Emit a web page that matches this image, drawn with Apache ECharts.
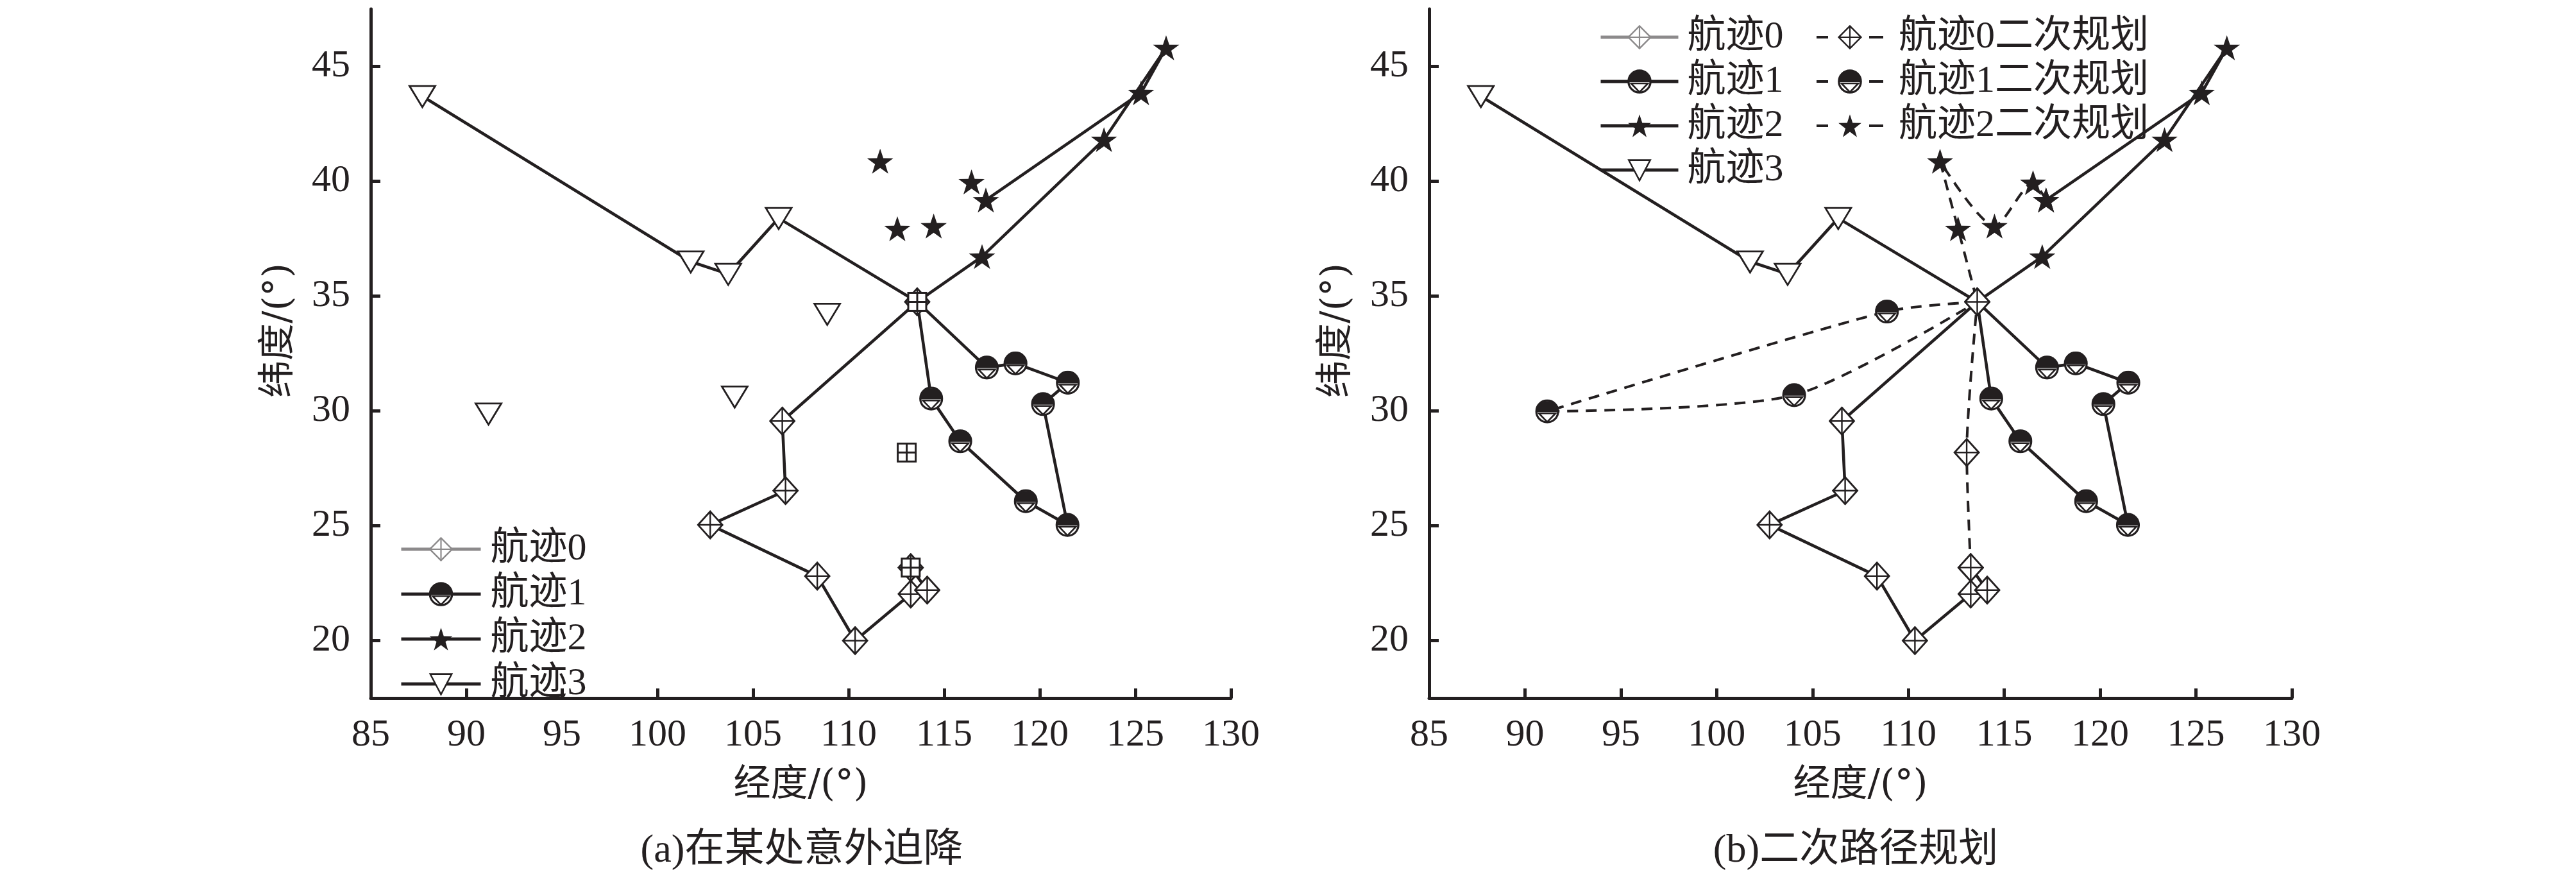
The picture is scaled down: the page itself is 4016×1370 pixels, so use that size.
<!DOCTYPE html>
<html><head><meta charset="utf-8">
<script src="https://cdn.jsdelivr.net/npm/echarts@6/dist/echarts.min.js"></script>
<style>html,body{margin:0;padding:0;background:#fff}#c{width:4016px;height:1370px}</style>
</head><body><div id="c"></div>
<script>
// ---------- data ----------
const xTicks = [85, 90, 95, 100, 105, 110, 115, 120, 125, 130];
const yTicks = [20, 25, 30, 35, 40, 45];
const legendTracks = ['航迹0', '航迹1', '航迹2', '航迹3'];
const legendReplans = ['航迹0二次规划', '航迹1二次规划', '航迹2二次规划'];
const captions = ['(a)在某处意外迫降', '(b)二次路径规划'];
const xTitle = '经度/(°)';
const yTitle = '纬度/(°)';

const track0 = [[113.59,34.75],[106.53,29.56],[106.70,26.53],[102.76,25.04],[108.36,22.81],[110.34,20.00],[113.25,22.03],[114.11,22.20],[113.25,23.18]];
const track1 = [[113.59,34.75],[114.32,30.54],[115.84,28.68],[119.27,26.07],[121.45,25.04],[120.17,30.30],[121.47,31.23],[118.73,32.07],[117.23,31.89],[113.59,34.75]];
const track2 = [[113.59,34.75],[116.98,36.72],[123.36,41.81],[126.61,45.81],[125.30,43.85],[117.18,39.18]];
const track3 = [[87.70,43.70],[101.74,36.50],[103.70,35.96],[106.34,38.39],[113.59,34.75]];

// (a) isolated points
const landingPts = [[113.59,34.75],[113.04,28.19],[113.25,23.18]];
const isolated2 = [[111.65,40.87],[112.55,37.93],[114.45,38.05],[116.43,39.97]];
const isolated3 = [[91.16,29.88],[104.04,30.62],[108.88,34.22]];

// (b) re-planned paths
const replan0 = [[113.25,23.18],[113.04,28.19],[113.59,34.75]];
const replan1 = [[113.59,34.75],[108.88,34.33],[91.16,29.98],[104.04,30.69],[113.59,34.75]];
const replan2 = [[117.18,39.18],[116.50,39.94],[114.49,38.05],[111.65,40.87],[112.59,37.93],[113.59,34.75]];

// ---------- styles ----------
const K = '#231f20';
const GREY = '#8c8a8b';
const SERIF = "'Liberation Serif','Noto Sans CJK SC',serif";
const SERIF2 = "'DejaVu Serif','Noto Sans CJK SC',serif";
function svg(w, h, body) {
  return 'image://data:image/svg+xml;charset=utf-8,' + encodeURIComponent(
    '<svg xmlns="http://www.w3.org/2000/svg" width="' + w + '" height="' + h + '" viewBox="0 0 ' + w + ' ' + h + '">' + body + '</svg>');
}
function diamondSym(c) {
  return svg(42, 46, '<path d="M21 2 L40 23 L21 44 L2 23 Z" fill="#fff" stroke="' + c + '" stroke-width="2.8" stroke-linejoin="miter"/>' +
    '<path d="M21 2 V44 M2 23 H40" stroke="' + c + '" stroke-width="2.4" fill="none"/>');
}
const SYM_D = diamondSym(K), SYM_D_GREY = diamondSym(GREY);
const SYM_C = svg(38, 38, '<circle cx="19" cy="19" r="17" fill="#fff" stroke="' + K + '" stroke-width="3.2"/>' +
  '<path d="M2 20 A17 17 0 0 1 36 20 Z" fill="' + K + '"/>' +
  '<path d="M6 22 H32 L19 35.5 Z" fill="none" stroke="' + K + '" stroke-width="2.6"/>');
let starPts = [];
for (let i = 0; i < 10; i++) {
  const r = i % 2 === 0 ? 21.5 : 8.4;
  const a = -Math.PI / 2 + i * Math.PI / 5;
  starPts.push((22 + r * Math.cos(a)).toFixed(2) + ',' + (23 + r * Math.sin(a)).toFixed(2));
}
const SYM_S = svg(44, 42, '<polygon points="' + starPts.join(' ') + '" fill="' + K + '"/>');
const SYM_T = svg(46, 40, '<path d="M3 4 H43 L23 37 Z" fill="#fff" stroke="' + K + '" stroke-width="2.8"/>');
const SYM_Q = svg(32, 32, '<rect x="2" y="2" width="28" height="28" fill="#fff" stroke="' + K + '" stroke-width="3"/>' +
  '<path d="M16 2 V30 M2 16 H30" stroke="' + K + '" stroke-width="3"/>');

function hideIdx(arr, idxs) {
  return arr.map((p, i) => idxs.indexOf(i) >= 0 ? { value: p, symbol: 'none' } : p);
}
function lineS(name, g, data, sym, size, dashed) {
  return {
    name: name, type: 'line', xAxisIndex: g, yAxisIndex: g, data: data,
    symbol: sym, symbolSize: size, showSymbol: true, smooth: dashed ? 0.25 : false,
    lineStyle: { color: K, width: dashed ? 4 : 4.6, type: dashed ? [17, 12] : 'solid' },
    itemStyle: { color: K, opacity: 1 }, animation: false, z: 3
  };
}
function scatterS(name, g, data, sym, size) {
  return { name: name, type: 'scatter', xAxisIndex: g, yAxisIndex: g, data: data,
    symbol: sym, symbolSize: size, itemStyle: { color: K, opacity: 1 }, animation: false, z: 4 };
}

const grids = [
  { left: 578, right: 4016 - 1919, top: 14, bottom: 1370 - 1088 },
  { left: 2228, right: 4016 - 3573, top: 14, bottom: 1370 - 1088 }
];
function xAx(g) {
  return {
    type: 'value', gridIndex: g, min: 85, max: 130,
    name: xTitle, nameLocation: 'middle', nameGap: 108,
    nameTextStyle: { fontFamily: SERIF2, fontSize: 58, color: K },
    axisLine: { show: true, onZero: false, lineStyle: { color: K, width: 5 } },
    axisTick: { show: true, inside: true, length: 15, lineStyle: { color: K, width: 5 }, customValues: xTicks },
    axisLabel: { margin: 28, fontFamily: SERIF, fontSize: 60, color: K, customValues: xTicks },
    splitLine: { show: false }
  };
}
function yAx(g) {
  return {
    type: 'value', gridIndex: g, min: 17.5, max: 47.5,
    axisLine: { show: true, onZero: false, lineStyle: { color: K, width: 5 } },
    axisTick: { show: true, inside: true, length: 15, lineStyle: { color: K, width: 5 }, customValues: yTicks },
    axisLabel: { margin: 32, fontFamily: SERIF, fontSize: 60, color: K, customValues: yTicks },
    splitLine: { show: false }
  };
}

const series = [
  // grey legend representative for 航迹0
  { name: '航迹0', type: 'line', xAxisIndex: 0, yAxisIndex: 0, data: [], symbol: SYM_D_GREY, symbolSize: [42, 46],
    lineStyle: { color: GREY, width: 5 }, itemStyle: { color: GREY }, animation: false },
  // (a)
  lineS('航迹0', 0, track0, SYM_D, [42, 46]),
  lineS('航迹1', 0, hideIdx(track1, [0, track1.length - 1]), SYM_C, [38, 38]),
  lineS('航迹2', 0, hideIdx(track2, [0]), SYM_S, [44, 42]),
  lineS('航迹3', 0, hideIdx(track3, [track3.length - 1]), SYM_T, [46, 40]),
  scatterS('备降点2', 0, isolated2, SYM_S, [44, 42]),
  scatterS('备降点3', 0, isolated3, SYM_T, [46, 40]),
  scatterS('迫降位置', 0, landingPts, SYM_Q, [32, 32]),
  // (b)
  lineS('航迹1', 1, hideIdx(track1, [0, track1.length - 1]), SYM_C, [38, 38]),
  lineS('航迹2', 1, hideIdx(track2, [0]), SYM_S, [44, 42]),
  lineS('航迹3', 1, hideIdx(track3, [track3.length - 1]), SYM_T, [46, 40]),
  lineS('航迹0二次规划', 1, replan0, SYM_D, [42, 46], true),
  lineS('航迹1二次规划', 1, hideIdx(replan1, [0, replan1.length - 1]), SYM_C, [38, 38], true),
  lineS('航迹2二次规划', 1, hideIdx(replan2, [replan2.length - 1]), SYM_S, [44, 42], true),
  lineS('航迹0', 1, track0, SYM_D, [42, 46])
];

function legendText(padLeft) {
  return { fontFamily: SERIF, fontSize: 60, color: K, lineHeight: 48, padding: [0, 0, 0, padLeft] };
}
function yTitleText(x) {
  return { type: 'text', x: x, y: 515, rotation: Math.PI / 2,
    style: { text: yTitle, fontFamily: SERIF2, fontSize: 58, fill: K, textAlign: 'center', textVerticalAlign: 'middle' } };
}
const option = {
  backgroundColor: '#fff',
  animation: false,
  grid: grids,
  xAxis: [xAx(0), xAx(1)],
  yAxis: [yAx(0), yAx(1)],
  legend: [
    { data: legendTracks, orient: 'vertical', left: 623, top: 826, padding: 0,
      itemWidth: 124, itemHeight: 48, itemGap: 10, textStyle: legendText(10), selectedMode: false,
      lineStyle: { width: 5 } },
    { data: legendTracks, orient: 'vertical', left: 2493, top: 28, padding: 0,
      itemWidth: 121, itemHeight: 48, itemGap: 9, textStyle: legendText(9), selectedMode: false,
      lineStyle: { width: 5 } },
    { data: legendReplans, orient: 'vertical', left: 2830, top: 28, padding: 0,
      itemWidth: 104, itemHeight: 48, itemGap: 9, textStyle: legendText(19), selectedMode: false,
      lineStyle: { width: 4, type: [18, 64, 22] } }
  ],
  graphic: [
    yTitleText(436),
    yTitleText(2085),
    { type: 'text', x: 1250, y: 1327, style: { text: captions[0], fontFamily: SERIF, fontSize: 62, fill: K, textAlign: 'center', textVerticalAlign: 'middle' } },
    { type: 'text', x: 2893, y: 1327, style: { text: captions[1], fontFamily: SERIF, fontSize: 62, fill: K, textAlign: 'center', textVerticalAlign: 'middle' } }
  ],
  series: series
};
const chart = echarts.init(document.getElementById('c'), null, { renderer: 'canvas' });
chart.setOption(option);
</script></body></html>
